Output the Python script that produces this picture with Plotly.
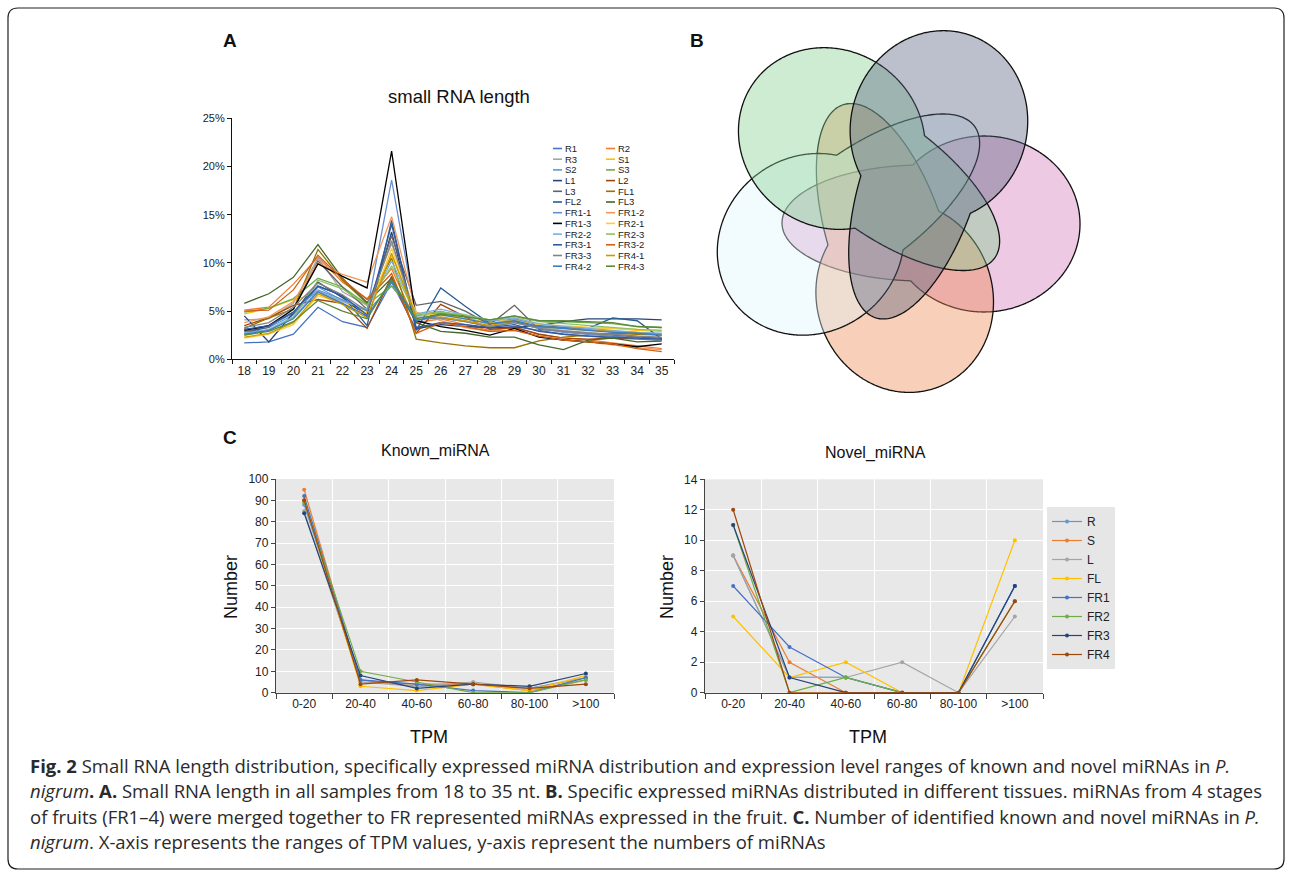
import numpy as np
import plotly.graph_objects as go

W, H = 1292, 871


def px(x):
    return x / W


def py(y):
    return 1 - y / H


# ---------------- Panel A data: small RNA length (% of reads) ----------------
lengths = [str(i) for i in range(18, 36)]
sample_names = ["R1", "R2", "R3", "S1", "S2", "S3", "L1", "L2", "L3", "FL1", "FL2", "FL3",
                "FR1-1", "FR1-2", "FR1-3", "FR2-1", "FR2-2", "FR2-3",
                "FR3-1", "FR3-2", "FR3-3", "FR4-1", "FR4-2", "FR4-3"]
sample_colors = ["#4472C4", "#ED7D31", "#A5A5A5", "#FFC000", "#5B9BD5", "#70AD47",
                 "#264478", "#9E480E", "#636363", "#997300", "#255E91", "#43682B",
                 "#698ED0", "#F1975A", "#000000", "#FFCD33", "#7CAFDD", "#8CC168",
                 "#335AA1", "#D26012", "#848484", "#CC9A00", "#3C7DC4", "#5A8A39"]
R1 = [1.7, 1.8, 2.6, 5.4, 3.9, 3.3, 8.0, 3.1, 3.8, 3.6, 3.2, 3.4, 3.0, 2.6, 2.4, 2.2, 2.1, 2.0]
R2 = [5.1, 5.4, 7.8, 10.6, 8.0, 6.3, 9.4, 3.8, 4.2, 3.6, 3.0, 3.3, 2.6, 2.2, 2.0, 1.7, 1.4, 1.1]
R3 = [4.1, 4.2, 5.8, 10.5, 7.0, 5.6, 12.0, 4.6, 5.0, 4.4, 3.6, 3.9, 3.3, 3.0, 2.8, 2.6, 2.4, 2.2]
S1 = [4.7, 5.3, 6.2, 6.8, 6.0, 4.8, 10.8, 4.7, 4.8, 4.2, 3.8, 4.1, 3.6, 3.4, 3.3, 3.2, 3.0, 2.9]
S2 = [2.8, 3.3, 4.6, 7.5, 6.1, 5.0, 7.6, 4.5, 4.9, 4.5, 3.9, 4.2, 3.6, 3.3, 3.1, 2.9, 2.8, 2.6]
S3 = [4.9, 5.3, 6.3, 8.4, 7.5, 5.7, 7.6, 4.6, 4.8, 4.5, 4.1, 4.4, 4.0, 3.9, 3.8, 3.7, 3.4, 3.3]
L1 = [4.5, 1.8, 4.8, 8.0, 6.4, 4.4, 13.2, 3.2, 3.6, 3.4, 3.3, 3.3, 3.5, 3.9, 4.2, 4.2, 4.2, 4.1]
L2 = [3.5, 4.3, 5.6, 6.2, 5.8, 3.2, 8.6, 2.7, 5.7, 4.4, 3.1, 3.3, 2.6, 2.2, 2.1, 2.2, 2.2, 2.0]
L3 = [2.9, 3.3, 5.2, 10.2, 7.5, 5.2, 12.8, 5.6, 6.0, 5.0, 3.6, 5.6, 3.1, 2.9, 2.7, 2.5, 2.3, 2.2]
FL1 = [3.2, 4.3, 5.2, 11.4, 8.2, 5.8, 10.5, 2.1, 1.7, 1.4, 1.2, 1.2, 1.9, 2.3, 2.5, 2.7, 2.6, 2.5]
FL2 = [2.6, 3.5, 4.8, 7.6, 6.6, 3.5, 14.4, 3.0, 7.4, 5.5, 3.7, 3.9, 3.4, 3.3, 3.2, 4.3, 4.0, 2.1]
FL3 = [5.8, 6.8, 8.5, 11.9, 8.4, 5.9, 8.4, 3.8, 2.9, 2.7, 2.3, 2.3, 1.5, 1.0, 2.0, 2.2, 1.8, 1.9]
FR1_1 = [3.1, 3.4, 4.9, 7.2, 6.2, 5.1, 18.6, 4.4, 4.3, 3.9, 3.4, 3.8, 3.2, 2.8, 2.6, 2.4, 2.2, 2.0]
FR1_2 = [3.8, 4.4, 6.0, 10.0, 8.8, 8.0, 14.8, 4.9, 4.0, 3.3, 2.9, 3.0, 2.4, 2.1, 1.8, 1.5, 1.2, 1.0]
FR1_3 = [3.0, 3.5, 5.2, 9.9, 8.6, 7.4, 21.6, 4.0, 3.4, 3.0, 2.5, 3.2, 2.3, 2.0, 1.8, 1.6, 1.3, 1.6]
FR2_1 = [2.2, 2.6, 3.6, 6.6, 5.8, 4.6, 11.5, 4.8, 4.6, 4.2, 3.7, 4.4, 3.6, 3.5, 3.3, 3.2, 3.1, 3.0]
FR2_2 = [2.7, 3.1, 4.4, 7.1, 6.0, 5.2, 10.2, 4.7, 5.2, 4.6, 4.0, 4.3, 3.7, 3.4, 3.2, 3.0, 2.8, 2.7]
FR2_3 = [2.5, 3.0, 4.3, 8.2, 7.3, 5.6, 9.7, 4.6, 4.9, 4.6, 4.1, 4.5, 3.9, 3.7, 3.5, 3.3, 3.1, 3.0]
FR3_1 = [3.1, 3.5, 4.9, 7.6, 6.6, 4.6, 14.0, 3.3, 3.8, 3.6, 3.3, 3.6, 2.9, 2.6, 2.4, 2.3, 2.2, 2.1]
FR3_2 = [5.0, 5.1, 7.2, 10.8, 8.3, 6.2, 8.9, 2.7, 3.8, 3.4, 2.9, 3.0, 2.4, 2.0, 1.8, 1.6, 1.1, 0.8]
FR3_3 = [3.3, 3.8, 5.4, 7.9, 6.7, 5.0, 12.3, 4.1, 4.3, 3.9, 3.4, 3.8, 3.2, 2.9, 2.7, 2.6, 2.4, 2.3]
FR4_1 = [2.3, 2.7, 3.8, 6.8, 5.7, 4.3, 11.0, 4.3, 4.4, 4.0, 3.5, 4.0, 3.4, 3.2, 3.0, 2.9, 2.7, 2.6]
FR4_2 = [2.6, 3.0, 4.2, 7.0, 5.8, 4.5, 8.1, 4.0, 4.6, 4.2, 3.7, 4.0, 3.4, 3.2, 3.0, 2.8, 2.7, 2.5]
FR4_3 = [2.5, 2.9, 3.9, 6.1, 5.0, 4.2, 8.3, 4.2, 4.7, 4.4, 4.1, 4.5, 4.0, 4.0, 3.9, 3.8, 3.4, 3.3]
sample_values = [R1, R2, R3, S1, S2, S3, L1, L2, L3, FL1, FL2, FL3,
                 FR1_1, FR1_2, FR1_3, FR2_1, FR2_2, FR2_3,
                 FR3_1, FR3_2, FR3_3, FR4_1, FR4_2, FR4_3]
pct_ticks = [0, 5, 10, 15, 20, 25]
pct_labels = ["0%", "5%", "10%", "15%", "20%", "25%"]

# ---------------- Panel C data: number of miRNAs per TPM range ----------------
tpm_bins = ["0-20", "20-40", "40-60", "60-80", "80-100", ">100"]
tissues = ["R", "S", "L", "FL", "FR1", "FR2", "FR3", "FR4"]
tissue_colors = ["#5B9BD5", "#ED7D31", "#A5A5A5", "#FFC000", "#4472C4", "#70AD47", "#264478", "#9E480E"]
known_R = [88, 6, 3, 4, 2, 7]
known_S = [95, 5, 4, 4, 1, 6]
known_L = [85, 5, 3, 5, 2, 7]
known_FL = [90, 3, 1, 4, 1, 8]
known_FR1 = [92, 6, 4, 1, 0, 7]
known_FR2 = [89, 10, 5, 0, 0, 6]
known_FR3 = [84, 8, 2, 4, 3, 9]
known_FR4 = [90, 4, 6, 4, 2, 4]
known_values = [known_R, known_S, known_L, known_FL, known_FR1, known_FR2, known_FR3, known_FR4]
novel_R = [9, 1, 1, 0, 0, 7]
novel_S = [9, 2, 0, 0, 0, 6]
novel_L = [9, 1, 1, 2, 0, 5]
novel_FL = [5, 1, 2, 0, 0, 10]
novel_FR1 = [7, 3, 1, 0, 0, 7]
novel_FR2 = [11, 0, 1, 0, 0, 6]
novel_FR3 = [11, 1, 0, 0, 0, 7]
novel_FR4 = [12, 0, 0, 0, 0, 6]
novel_values = [novel_R, novel_S, novel_L, novel_FL, novel_FR1, novel_FR2, novel_FR3, novel_FR4]

# ---------------- Panel B: five-set Venn (decorative set outlines) ----------------
venn_colors = ["rgba(210,120,185,0.4)", "rgba(237,135,77,0.4)", "rgba(222,245,250,0.4)",
               "rgba(130,207,142,0.4)", "rgba(87,97,127,0.4)"]

FONT = "Liberation Sans, Arial, sans-serif"
fig = go.Figure()

# Panel A traces
for name, col, vals in zip(sample_names, sample_colors, sample_values):
    fig.add_trace(go.Scatter(x=lengths, y=vals, mode="lines", name=name,
                             line=dict(color=col, width=1.3), showlegend=False,
                             xaxis="x", yaxis="y"))

# Panel C traces
for name, col, vals in zip(tissues, tissue_colors, known_values):
    fig.add_trace(go.Scatter(x=tpm_bins, y=vals, mode="lines+markers", name=name,
                             line=dict(color=col, width=1.2), marker=dict(size=4, color=col),
                             showlegend=False, xaxis="x2", yaxis="y2"))
for name, col, vals in zip(tissues, tissue_colors, novel_values):
    fig.add_trace(go.Scatter(x=tpm_bins, y=vals, mode="lines+markers", name=name,
                             line=dict(color=col, width=1.2), marker=dict(size=4, color=col),
                             showlegend=True, xaxis="x3", yaxis="y3"))

shapes = []
annotations = []

# backgrounds for panel C plots
for ax in ["x2", "x3"]:
    yax = "y" + ax[1:]
    shapes.append(dict(type="rect", xref=ax + " domain", yref=yax + " domain", x0=0, x1=1, y0=0, y1=1,
                       fillcolor="#E8E8E8", line=dict(width=0), layer="below"))

# manual two-column legend for panel A
for i, (name, col) in enumerate(zip(sample_names, sample_colors)):
    colx = 553 if i % 2 == 0 else 606
    yy = 148.5 + (i // 2) * 10.7
    shapes.append(dict(type="line", xref="paper", yref="paper", x0=px(colx), x1=px(colx + 9),
                       y0=py(yy), y1=py(yy), line=dict(color=col, width=1.6)))
    annotations.append(dict(text=name, x=px(colx + 9.5), y=py(yy), xref="paper", yref="paper",
                            xanchor="left", yanchor="middle", showarrow=False,
                            font=dict(family=FONT, size=9.5, color="#222")))

# Venn diagram outlines
C = np.array([894.0, 206.0])
p0 = C + np.array([60.0, 20.0])
ell_c, ell_a, ell_b = C + np.array([90.0, 18.0]), 96.0, 88.0
lobe_c, lobe_a, lobe_b = C + np.array([28.0, 17.0]), 140.0, 58.0
phi = np.linspace(0, 2 * np.pi, 721)[:-1]
ux, uy = np.cos(phi), np.sin(phi)


def ray(c, a, b):
    qx, qy = p0[0] - c[0], p0[1] - c[1]
    A = ux ** 2 / a ** 2 + uy ** 2 / b ** 2
    B = 2 * (qx * ux / a ** 2 + qy * uy / b ** 2)
    Cc = qx ** 2 / a ** 2 + qy ** 2 / b ** 2 - 1
    return (-B + np.sqrt(B ** 2 - 4 * A * Cc)) / (2 * A)


r = np.maximum(ray(ell_c, ell_a, ell_b), ray(lobe_c, lobe_a, lobe_b))
bx, by = p0[0] + r * ux, p0[1] + r * uy
for k, fc in enumerate(venn_colors):
    t = np.deg2rad(72 * k)
    xs = C[0] + (bx - C[0]) * np.cos(t) - (by - C[1]) * np.sin(t)
    ys = C[1] + (bx - C[0]) * np.sin(t) + (by - C[1]) * np.cos(t)
    path = "M " + " L ".join(f"{px(a):.5f},{py(b):.5f}" for a, b in zip(xs, ys)) + " Z"
    shapes.append(dict(type="path", xref="paper", yref="paper", path=path, fillcolor=fc,
                       line=dict(color="#111", width=1.3), layer="above"))


# outer frame (rounded rectangle)
def P(x, y):
    return f"{px(x):.5f},{py(y):.5f}"


x0f, y0f, x1f, y1f, rr = 8, 8, 1284, 869, 10
frame = (f"M {P(x0f + rr, y0f)} L {P(x1f - rr, y0f)} Q {P(x1f, y0f)} {P(x1f, y0f + rr)} "
         f"L {P(x1f, y1f - rr)} Q {P(x1f, y1f)} {P(x1f - rr, y1f)} L {P(x0f + rr, y1f)} "
         f"Q {P(x0f, y1f)} {P(x0f, y1f - rr)} L {P(x0f, y0f + rr)} Q {P(x0f, y0f)} {P(x0f + rr, y0f)} Z")
shapes.append(dict(type="path", xref="paper", yref="paper", path=frame,
                   line=dict(color="#231F20", width=1.2)))


def ann(text, x, y, size, xanchor="center", angle=0, bold=False, family=FONT, color="#111"):
    annotations.append(dict(text=f"<b>{text}</b>" if bold else text, x=px(x), y=py(y),
                            xref="paper", yref="paper", xanchor=xanchor, yanchor="middle",
                            showarrow=False, textangle=angle,
                            font=dict(family=family, size=size, color=color)))


ann("A", 230, 40, 19, bold=True)
ann("B", 697, 40, 19, bold=True)
ann("C", 230, 437, 19, bold=True)
ann("small RNA length", 459, 97, 18.5)
ann("Known_miRNA", 435, 451, 16)
ann("Novel_miRNA", 876, 453, 16)
ann("Number", 231, 587, 18, angle=-90)
ann("Number", 667, 587, 18, angle=-90)
ann("TPM", 429, 737, 18)
ann("TPM", 868, 737, 18)

CAP = "Open Sans, Noto Sans, sans-serif"
caption = [
    "<b>Fig. 2</b> Small RNA length distribution, specifically expressed miRNA distribution and expression level ranges of known and novel miRNAs in <i>P.</i>",
    "<i>nigrum</i><b>. A.</b> Small RNA length in all samples from 18 to 35 nt. <b>B.</b> Specific expressed miRNAs distributed in different tissues. miRNAs from 4 stages",
    "of fruits (FR1–4) were merged together to FR represented miRNAs expressed in the fruit. <b>C.</b> Number of identified known and novel miRNAs in <i>P.</i>",
    "<i>nigrum</i>. X-axis represents the ranges of TPM values, y-axis represent the numbers of miRNAs",
]
for i, line in enumerate(caption):
    ann(line, 28, 765 + 25.5 * i, 18.5, xanchor="left", family=CAP, color="#2a2a2a")

fig.update_layout(
    width=W, height=H, margin=dict(l=0, r=0, t=0, b=0, autoexpand=False),
    paper_bgcolor="white", plot_bgcolor="white",
    font=dict(family=FONT, color="#222"),
    shapes=shapes, annotations=annotations,
    xaxis=dict(domain=[px(232), px(674)], anchor="y", type="category", range=[-0.5, 17.5],
               tickson="boundaries", ticks="outside", ticklen=4, showline=True,
               linecolor="#111", linewidth=1.2, tickcolor="#111", showgrid=False, zeroline=False,
               automargin=False, tickfont=dict(family=FONT, size=12, color="#222")),
    yaxis=dict(domain=[py(359.3), py(118.3)], anchor="x", range=[0, 25], tickvals=pct_ticks,
               ticktext=pct_labels, ticklen=4, linecolor="#111", linewidth=1.2, tickcolor="#111",
               showgrid=False, zeroline=False, showline=True, ticks="outside", automargin=False,
               tickfont=dict(family=FONT, size=11, color="#222")),
    xaxis2=dict(domain=[px(276), px(614)], anchor="y2", type="category", range=[-0.5, 5.5],
                tickson="boundaries", ticks="outside", ticklen=5, showline=True,
                linecolor="#444", linewidth=1.3, tickcolor="#444", showgrid=True,
                gridcolor="white", gridwidth=1, zeroline=False, automargin=False,
                tickfont=dict(family=FONT, size=12, color="#222")),
    yaxis2=dict(domain=[py(692.7), py(479)], anchor="x2", range=[0, 100], dtick=10,
                ticks="outside", ticklen=4, showline=True, linecolor="#444", linewidth=1.3,
                tickcolor="#444", showgrid=True, gridcolor="white", gridwidth=1, zeroline=False,
                automargin=False, tickfont=dict(family=FONT, size=12, color="#222")),
    xaxis3=dict(domain=[px(705), px(1043)], anchor="y3", type="category", range=[-0.5, 5.5],
                tickson="boundaries", ticks="outside", ticklen=5, showline=True,
                linecolor="#444", linewidth=1.3, tickcolor="#444", showgrid=True,
                gridcolor="white", gridwidth=1, zeroline=False, automargin=False,
                tickfont=dict(family=FONT, size=12, color="#222")),
    yaxis3=dict(domain=[py(692.7), py(479.3)], anchor="x3", range=[0, 14], dtick=2,
                ticks="outside", ticklen=4, showline=True, linecolor="#444", linewidth=1.3,
                tickcolor="#444", showgrid=True, gridcolor="white", gridwidth=1, zeroline=False,
                automargin=False, tickfont=dict(family=FONT, size=12, color="#222")),
    legend=dict(x=px(1047), y=py(507), xanchor="left", yanchor="top", bgcolor="#E6E6E6",
                font=dict(family=FONT, size=12, color="#222"), itemwidth=30,
                tracegroupgap=0, borderwidth=0),
)

fig.write_html("out.html", config={"displayModeBar": False},
               post_script="document.body.style.margin='0px';")
